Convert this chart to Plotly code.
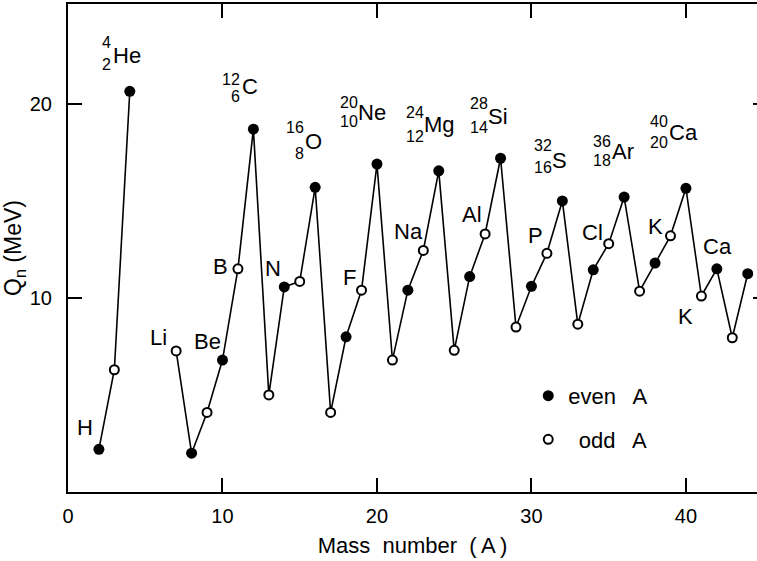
import plotly.graph_objects as go

# ---- data ----
mass_a = [2, 3, 4, 7, 8, 9, 10, 11, 12, 13, 14, 15, 16, 17, 18, 19, 20, 21, 22, 23,
          24, 25, 26, 27, 28, 29, 30, 31, 32, 33, 34, 35, 36, 37, 38, 39, 40, 41, 42, 43, 44]
q_n = [2.2, 6.3, 20.65, 7.27, 2.0, 4.1, 6.8, 11.5, 18.7, 5.0, 10.57, 10.85, 15.7, 4.1,
       8.0, 10.4, 16.9, 6.8, 10.4, 12.45, 16.55, 7.3, 11.1, 13.3, 17.2, 8.5, 10.6, 12.3,
       15.0, 8.65, 11.45, 12.8, 15.2, 10.35, 11.8, 13.2, 15.65, 10.1, 11.5, 7.95, 11.25]
x_ticks = [0, 10, 20, 30, 40]
y_ticks = [10, 20]

# nuclide labels: (mass number, atomic number, symbol, x_num_right, y_sup, y_sub, x_sym, y_sym)
nuclides = [
    ("4", "2", "He", 2.90, 23.19, 22.01, 2.78, 22.52),
    ("12", "6", "C", 11.25, 21.28, 20.36, 11.13, 20.92),
    ("16", "8", "O", 15.40, 18.76, 17.47, 15.21, 18.04),
    ("20", "10", "Ne", 18.89, 20.05, 19.07, 18.64, 19.55),
    ("24", "12", "Mg", 23.16, 19.55, 18.30, 22.91, 18.92),
    ("28", "14", "Si", 27.31, 20.00, 18.76, 27.05, 19.35),
    ("32", "16", "S", 31.45, 17.88, 16.70, 31.19, 17.11),
    ("36", "18", "Ar", 35.27, 18.04, 17.06, 35.08, 17.57),
    ("40", "20", "Ca", 38.96, 19.07, 17.99, 38.77, 18.52),
]
# element labels: (text, x, y)
elements = [
    ("H", 1.10, 3.30), ("Li", 5.83, 7.94), ("Be", 9.06, 7.78), ("B", 9.90, 11.60),
    ("N", 13.27, 11.54), ("F", 18.25, 11.05), ("Na", 22.01, 13.40), ("Al", 26.15, 14.28),
    ("P", 30.29, 13.24), ("Cl", 33.92, 13.35), ("K", 38.0, 13.66), ("Ca", 42.07, 12.63),
    ("K", 39.94, 9.02),
]

FONT = "Liberation Sans, Arial, Helvetica, sans-serif"

# line: gap between A=4 and A=7
line_x, line_y = [], []
for i, (a, q) in enumerate(zip(mass_a, q_n)):
    if i > 0 and a - mass_a[i - 1] > 1:
        line_x.append(None)
        line_y.append(None)
    line_x.append(a)
    line_y.append(q)

even_x = [a for a in mass_a if a % 2 == 0]
even_y = [q for a, q in zip(mass_a, q_n) if a % 2 == 0]
odd_x = [a for a in mass_a if a % 2 == 1]
odd_y = [q for a, q in zip(mass_a, q_n) if a % 2 == 1]

fig = go.Figure()
fig.add_trace(go.Scatter(x=line_x, y=line_y, mode="lines",
                         line=dict(color="black", width=1.6), showlegend=False,
                         hoverinfo="skip"))
fig.add_trace(go.Scatter(x=even_x, y=even_y, mode="markers",
                         name="even\u00a0\u00a0\u2009A",
                         legendgroup="e",
                         marker=dict(symbol="circle", size=11, color="black",
                                     line=dict(color="black", width=0))))
fig.add_trace(go.Scatter(x=odd_x, y=odd_y, mode="markers",
                         name="\u00a0\u2009odd\u00a0\u00a0\u2009A",
                         legendgroup="o",
                         marker=dict(symbol="circle", size=9, color="white",
                                     line=dict(color="black", width=2))))

ann = []
for m, z, sym, xr, ysup, ysub, xs, ys in nuclides:
    ann.append(dict(x=xr, y=ysup, text=m, xanchor="right", yanchor="middle",
                    showarrow=False, font=dict(size=16, color="black", family=FONT)))
    ann.append(dict(x=xr, y=ysub, text=z, xanchor="right", yanchor="middle",
                    showarrow=False, font=dict(size=16, color="black", family=FONT)))
    ann.append(dict(x=xs, y=ys, text=sym, xanchor="left", yanchor="middle",
                    showarrow=False, font=dict(size=22, color="black", family=FONT)))
for t, x, y in elements:
    ann.append(dict(x=x, y=y, text=t, xanchor="center", yanchor="middle",
                    showarrow=False, font=dict(size=22, color="black", family=FONT)))

shapes = []
for yv in y_ticks:
    shapes.append(dict(type="line", xref="paper", yref="y", x0=0.9942, x1=1.0,
                       y0=yv, y1=yv, line=dict(color="black", width=2)))

fig.update_layout(
    width=757, height=561,
    margin=dict(l=68, r=0, t=4, b=69),
    paper_bgcolor="white", plot_bgcolor="white",
    font=dict(family=FONT, size=20, color="black"),
    annotations=ann, shapes=shapes,
    showlegend=True,
    legend=dict(x=0.668, y=0.24, xanchor="left", yanchor="top",
                bgcolor="rgba(0,0,0,0)", font=dict(size=22, family=FONT),
                tracegroupgap=12, itemsizing="trace"),
    xaxis=dict(range=[0, 44.6], tickvals=x_ticks, ticks="inside", ticklen=14,
               tickwidth=2, tickcolor="black", showline=True, linewidth=2,
               linecolor="black", mirror="ticks", showgrid=False, zeroline=False,
               ticklabelstandoff=5,
               title=dict(text="Mass\u00a0\u00a0number\u00a0\u00a0(\u2009A\u2009)",
                          standoff=12, font=dict(size=22, family=FONT))),
    yaxis=dict(range=[0, 25.15], tickvals=y_ticks, ticks="inside", ticklen=14,
               tickwidth=2, tickcolor="black", showline=True, linewidth=2,
               linecolor="black", mirror=False, showgrid=False, zeroline=False,
               ticklabelstandoff=10,
               title=dict(text="Q<sub>n</sub>\u00a0(MeV)", standoff=6,
                          font=dict(size=23, family=FONT))),
)

fig.write_html("out.html", config={"displayModeBar": False},
               post_script="document.body.style.margin='0px';")
